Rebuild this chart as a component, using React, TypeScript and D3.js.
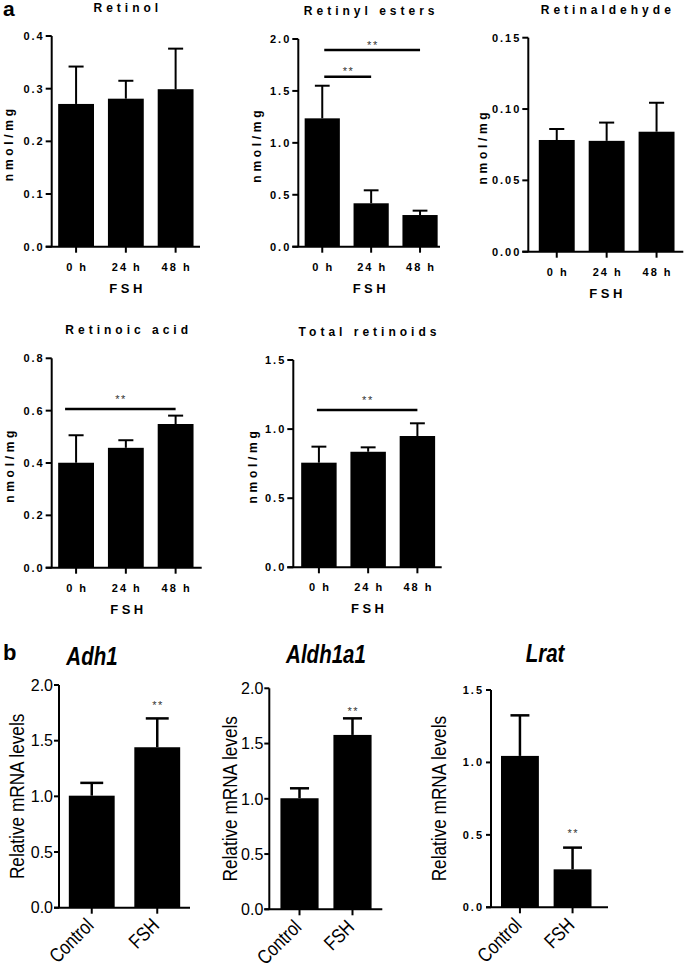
import React from "react";
import * as d3 from "d3";

// ---------- data ----------
const timeCategories = ["0 h", "24 h", "48 h"];
const treatmentCategories = ["Control", "FSH"];

const retinolMean = [0.271, 0.281, 0.299];
const retinolSD = [0.071, 0.034, 0.077];
const retinylEstersMean = [1.236, 0.418, 0.305];
const retinylEstersSD = [0.314, 0.125, 0.042];
const retinaldehydeMean = [0.0783, 0.0777, 0.0841];
const retinaldehydeSD = [0.0077, 0.0128, 0.0203];
const retinoicAcidMean = [0.401, 0.458, 0.549];
const retinoicAcidSD = [0.105, 0.029, 0.032];
const totalRetinoidsMean = [0.757, 0.836, 0.95];
const totalRetinoidsSD = [0.116, 0.032, 0.092];

const adh1Mean = [1.006, 1.441];
const adh1SD = [0.115, 0.259];
const aldh1a1Mean = [1.005, 1.578];
const aldh1a1SD = [0.09, 0.15];
const lratMean = [1.045, 0.262];
const lratSD = [0.28, 0.15];

const retinolTicks = [0, 0.1, 0.2, 0.3, 0.4];
const retinylTicks = [0, 0.5, 1.0, 1.5, 2.0];
const retinaldehydeTicks = [0, 0.05, 0.1, 0.15];
const retinoicTicks = [0, 0.2, 0.4, 0.6, 0.8];
const totalTicks = [0, 0.5, 1.0, 1.5];
const mrnaTicks = [0, 0.5, 1.0, 1.5, 2.0];
const lratTicks = [0, 0.5, 1.0, 1.5];

const retinylSig = [
  { from: 0, to: 2, level: 1.894, label: "**" },
  { from: 0, to: 1, level: 1.637, label: "**" },
];
const retinoicSig = [{ from: 0, to: 2, level: 0.606, label: "**" }];
const totalSig = [{ from: 0, to: 2, level: 1.138, label: "**" }];
const noSig: any[] = [];

const adh1Stars = ["", "**"];
const aldh1a1Stars = ["", "**"];
const lratStars = ["", "**"];

// ---------- style / layout ----------
const FONT = "'Liberation Sans', Arial, Helvetica, sans-serif";
const LS_TITLE = 4;
const LS_TICK = 2;
const LS_LABEL = 3.7;
const LS_FSH = 3.5;

const layoutRetinol = { x0: 51.7, bandStart: 51.7, bandEnd: 200, pad: 0.49, axisEnd: 200, yTop: 36, yBottom: 246.7, labelX: 13, starOff: 1.5, sigStartShift: 0 };
const layoutRetinyl = { x0: 298.3, bandStart: 298.3, bandEnd: 444, pad: 0.49, axisEnd: 440, yTop: 39, yBottom: 246.7, labelX: 260.5, starOff: 1.5, sigStartShift: 2 };
const layoutRetinaldehyde = { x0: 528.3, bandStart: 528.3, bandEnd: 685, pad: 0.57, axisEnd: 683.3, yTop: 37.7, yBottom: 251.7, labelX: 487, starOff: 1.5, sigStartShift: 0 };
const layoutRetinoic = { x0: 51.7, bandStart: 51.7, bandEnd: 200, pad: 0.49, axisEnd: 201.7, yTop: 358.3, yBottom: 567.7, labelX: 14, starOff: 6.5, sigStartShift: -11 };
const layoutTotal = { x0: 293.3, bandStart: 293.3, bandEnd: 443, pad: 0.52, axisEnd: 441.7, yTop: 360, yBottom: 567.3, labelX: 257, starOff: 6.5, sigStartShift: -2 };

const layoutAdh1 = { x0: 59, bandStart: 59, bandEnd: 190, pad: 0.5, axisEnd: 190, yTop: 685, yBottom: 907.7, labelX: 24, titleX: 92, titleY: 665, starOff: 9, bwFrac: 0.7 };
const layoutAldh1a1 = { x0: 269.3, bandStart: 269.3, bandEnd: 382.7, pad: 0.57, axisEnd: 382.3, yTop: 688.3, yBottom: 909.3, labelX: 237, titleX: 326, titleY: 663, starOff: 3, bwFrac: 0.72 };
const layoutLrat = { x0: 491, bandStart: 491, bandEnd: 601.5, pad: 0.55, axisEnd: 608, yTop: 690, yBottom: 907.3, labelX: 446, titleX: 545, titleY: 662, starOff: 11, bwFrac: 0.72 };

type SigLine = { from: number; to: number; level: number; label: string };

function PanelA(props: {
  title: string;
  cats: string[];
  mean: number[];
  sd: number[];
  ticks: number[];
  fmt: string;
  sig: SigLine[];
  L: any;
}) {
  const { title, cats, mean, sd, ticks, fmt, sig, L } = props;
  const x = d3.scalePoint<string>().domain(cats).range([L.bandStart, L.bandEnd]).padding(L.pad);
  const bw = x.step() * 0.72;
  const y = d3.scaleLinear().domain([ticks[0], ticks[ticks.length - 1]]).range([L.yBottom, L.yTop]);
  const f = d3.format(fmt);
  const cx = (L.x0 + L.axisEnd) / 2;
  return (
    <g fontFamily={FONT}>
      <text x={cx + LS_TITLE / 2} y={L.yTop - 24} textAnchor="middle" fontSize={12} fontWeight="bold" letterSpacing={LS_TITLE}>
        {title}
      </text>
      {cats.map((c, i) => {
        const xc = x(c) as number;
        const top = y(mean[i] + sd[i]);
        const capW = bw * 0.42;
        return (
          <g key={c}>
            <rect x={xc - bw / 2} y={y(mean[i])} width={bw} height={y(0) - y(mean[i])} fill="#000" />
            <line x1={xc} x2={xc} y1={y(mean[i])} y2={top} stroke="#000" strokeWidth={2} />
            <line x1={xc - capW / 2} x2={xc + capW / 2} y1={top} y2={top} stroke="#000" strokeWidth={2} />
          </g>
        );
      })}
      {/* axes */}
      <line x1={L.x0} x2={L.x0} y1={L.yTop} y2={L.yBottom} stroke="#000" strokeWidth={2} />
      <line x1={L.x0 - 6} x2={L.axisEnd} y1={L.yBottom} y2={L.yBottom} stroke="#000" strokeWidth={2} />
      {ticks.map((t) => (
        <g key={t}>
          <line x1={L.x0 - 6} x2={L.x0} y1={y(t)} y2={y(t)} stroke="#000" strokeWidth={2} />
          <text x={L.x0 - 9 + LS_TICK} y={y(t)} dy="0.36em" textAnchor="end" fontSize={11} fontWeight="bold" letterSpacing={LS_TICK}>
            {f(t)}
          </text>
        </g>
      ))}
      {cats.map((c) => (
        <g key={"t" + c}>
          <line x1={x(c) as number} x2={x(c) as number} y1={L.yBottom} y2={L.yBottom + 6} stroke="#000" strokeWidth={2} />
          <text x={(x(c) as number) + LS_TICK / 2} y={L.yBottom + 24} textAnchor="middle" fontSize={11} fontWeight="bold" letterSpacing={LS_TICK}>
            {c}
          </text>
        </g>
      ))}
      <text x={cx + LS_FSH / 2} y={L.yBottom + 46} textAnchor="middle" fontSize={13} fontWeight="bold" letterSpacing={LS_FSH}>
        FSH
      </text>
      <text
        transform={`translate(${L.labelX},${(L.yTop + L.yBottom) / 2 + LS_LABEL / 2}) rotate(-90)`}
        textAnchor="middle"
        fontSize={12}
        fontWeight="bold"
        letterSpacing={LS_LABEL}
      >
        nmol/mg
      </text>
      {sig.map((s, k) => {
        const x1 = (x(cats[s.from]) as number) + L.sigStartShift;
        const x2 = x(cats[s.to]) as number;
        const yy = y(s.level);
        return (
          <g key={"s" + k}>
            <line x1={x1} x2={x2} y1={yy} y2={yy} stroke="#000" strokeWidth={2.5} />
            <text x={(x1 + x2) / 2 + 0.75} y={yy - L.starOff} textAnchor="middle" fontSize={11} fill="#333" letterSpacing={1.5}>
              {s.label}
            </text>
          </g>
        );
      })}
    </g>
  );
}

function PanelB(props: {
  title: string;
  cats: string[];
  mean: number[];
  sd: number[];
  ticks: number[];
  stars: string[];
  L: any;
  smallTicks?: boolean;
}) {
  const { title, cats, mean, sd, ticks, stars, L, smallTicks } = props;
  const x = d3.scalePoint<string>().domain(cats).range([L.bandStart, L.bandEnd]).padding(L.pad);
  const bw = x.step() * L.bwFrac;
  const y = d3.scaleLinear().domain([ticks[0], ticks[ticks.length - 1]]).range([L.yBottom, L.yTop]);
  const f = d3.format(".1f");
  return (
    <g fontFamily={FONT}>
      <text transform={`translate(${L.titleX},${L.titleY}) scale(0.82,1)`} textAnchor="middle" fontSize={25} fontWeight="bold" fontStyle="italic">
        {title}
      </text>
      {cats.map((c, i) => {
        const xc = x(c) as number;
        const top = y(mean[i] + sd[i]);
        const capW = bw * 0.5;
        return (
          <g key={c}>
            <rect x={xc - bw / 2} y={y(mean[i])} width={bw} height={y(0) - y(mean[i])} fill="#000" />
            <line x1={xc} x2={xc} y1={y(mean[i])} y2={top} stroke="#000" strokeWidth={2.5} />
            <line x1={xc - capW / 2} x2={xc + capW / 2} y1={top} y2={top} stroke="#000" strokeWidth={2.5} />
            {stars[i] ? (
              <text x={xc + 0.75} y={top - L.starOff} textAnchor="middle" fontSize={11} fill="#333" letterSpacing={1.5}>
                {stars[i]}
              </text>
            ) : null}
          </g>
        );
      })}
      <line x1={L.x0} x2={L.x0} y1={L.yTop} y2={L.yBottom} stroke="#000" strokeWidth={2} />
      <line x1={L.x0 - 5} x2={L.axisEnd} y1={L.yBottom} y2={L.yBottom} stroke="#000" strokeWidth={2} />
      {ticks.map((t) => (
        <g key={t}>
          <line x1={L.x0 - 5} x2={L.x0} y1={y(t)} y2={y(t)} stroke="#000" strokeWidth={2} />
          {smallTicks ? (
            <text x={L.x0 - 9 + LS_TICK} y={y(t)} dy="0.36em" textAnchor="end" fontSize={11} fontWeight="bold" letterSpacing={LS_TICK}>
              {f(t)}
            </text>
          ) : (
            <text x={L.x0 - 6} y={y(t)} dy="0.36em" textAnchor="end" fontSize={16}>
              {f(t)}
            </text>
          )}
        </g>
      ))}
      {cats.map((c) => {
        const xc = x(c) as number;
        return (
          <g key={"t" + c}>
            <line x1={xc} x2={xc} y1={L.yBottom} y2={L.yBottom + 6} stroke="#000" strokeWidth={2} />
            <text transform={`translate(${xc + 3},${L.yBottom + 19}) rotate(-45) scale(0.82,1)`} textAnchor="end" fontSize={20}>
              {c}
            </text>
          </g>
        );
      })}
      <text transform={`translate(${L.labelX},${(L.yTop + L.yBottom) / 2}) rotate(-90) scale(0.82,1)`} textAnchor="middle" fontSize={21}>
        Relative mRNA levels
      </text>
    </g>
  );
}

export default function App() {
  return (
    <svg width={685} height={972} style={{ position: "absolute", left: 0, top: 0, background: "#fff" }}>
      <rect x={0} y={0} width={685} height={972} fill="#fff" />
      <text x={3} y={16} fontFamily={FONT} fontSize={21} fontWeight="bold">a</text>
      <text x={3} y={660} fontFamily={FONT} fontSize={22} fontWeight="bold">b</text>
      <PanelA title="Retinol" cats={timeCategories} mean={retinolMean} sd={retinolSD} ticks={retinolTicks} fmt=".1f" sig={noSig} L={layoutRetinol} />
      <PanelA title="Retinyl esters" cats={timeCategories} mean={retinylEstersMean} sd={retinylEstersSD} ticks={retinylTicks} fmt=".1f" sig={retinylSig} L={layoutRetinyl} />
      <PanelA title="Retinaldehyde" cats={timeCategories} mean={retinaldehydeMean} sd={retinaldehydeSD} ticks={retinaldehydeTicks} fmt=".2f" sig={noSig} L={layoutRetinaldehyde} />
      <PanelA title="Retinoic acid" cats={timeCategories} mean={retinoicAcidMean} sd={retinoicAcidSD} ticks={retinoicTicks} fmt=".1f" sig={retinoicSig} L={layoutRetinoic} />
      <PanelA title="Total retinoids" cats={timeCategories} mean={totalRetinoidsMean} sd={totalRetinoidsSD} ticks={totalTicks} fmt=".1f" sig={totalSig} L={layoutTotal} />
      <PanelB title="Adh1" cats={treatmentCategories} mean={adh1Mean} sd={adh1SD} ticks={mrnaTicks} stars={adh1Stars} L={layoutAdh1} />
      <PanelB title="Aldh1a1" cats={treatmentCategories} mean={aldh1a1Mean} sd={aldh1a1SD} ticks={mrnaTicks} stars={aldh1a1Stars} L={layoutAldh1a1} />
      <PanelB title="Lrat" cats={treatmentCategories} mean={lratMean} sd={lratSD} ticks={lratTicks} stars={lratStars} L={layoutLrat} smallTicks />
    </svg>
  );
}
